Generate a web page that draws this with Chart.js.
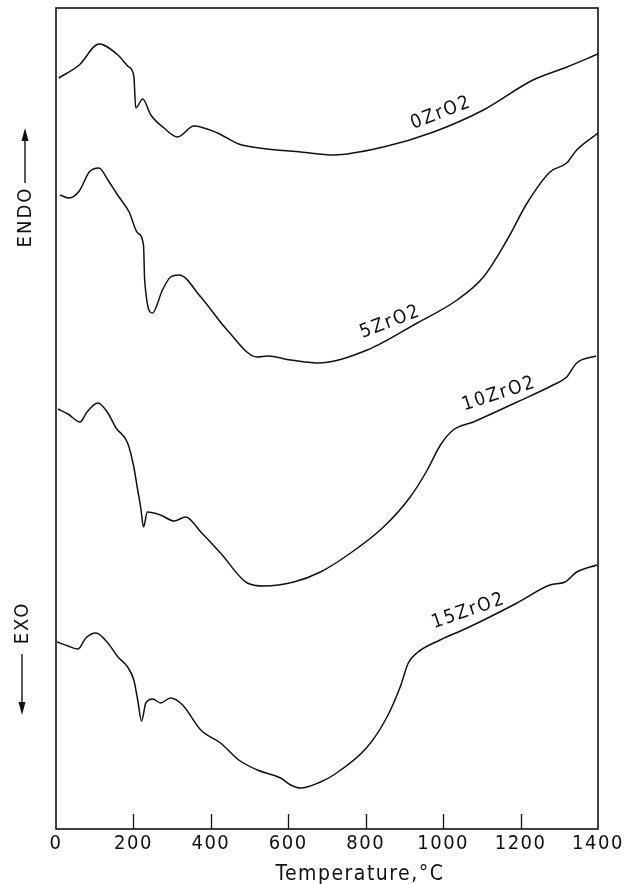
<!DOCTYPE html>
<html>
<head>
<meta charset="utf-8">
<script src="https://cdn.jsdelivr.net/npm/chart.js@4"></script>
<style>
  html, body { margin: 0; padding: 0; background: #fff; }
  canvas { display: block; }
</style>
</head>
<body>
<canvas id="dtaChart" width="638" height="884"></canvas>
<script>
// DTA traces (temperature in °C, signal in arbitrary units)
const temps0 = [7, 60, 111, 160, 188, 201, 206, 224, 245, 279, 314, 356, 417, 472, 546, 632, 717, 846, 975, 1104, 1232, 1320, 1400]
const signal0 = [751, 764, 785, 774, 762, 753, 721, 730, 714, 701, 692, 703, 696, 685, 680, 677, 674, 682, 697, 719, 749, 762, 775]

const temps5 = [10, 34, 60, 86, 111, 134, 159, 189, 211, 226, 229, 249, 275, 296, 318, 374, 442, 520, 546, 606, 675, 804, 933, 1036, 1104, 1165, 1217, 1276, 1319, 1345, 1400]
const signal5 = [634, 631, 638, 657, 661, 649, 634, 617, 596, 584, 549, 516, 539, 552, 554, 532, 499, 472, 473, 469, 466, 479, 506, 529, 552, 589, 626, 657, 666, 679, 696]

const temps10 = [5, 31, 62, 80, 108, 134, 155, 185, 201, 211, 219, 226, 236, 270, 305, 335, 374, 425, 494, 537, 614, 683, 761, 846, 915, 959, 993, 1026, 1078, 1191, 1284, 1319, 1345, 1395]
const signal10 = [420, 415, 407, 417, 426, 416, 401, 386, 362, 339, 321, 302, 317, 314, 308, 312, 297, 276, 246, 243, 247, 257, 276, 302, 332, 359, 384, 399, 407, 427, 444, 452, 466, 473]

const temps15 = [3, 31, 57, 77, 103, 134, 160, 185, 201, 211, 221, 232, 250, 270, 296, 327, 374, 425, 472, 520, 580, 606, 632, 683, 717, 804, 855, 889, 910, 932, 992, 1062, 1191, 1276, 1315, 1345, 1397]
const signal15 = [187, 183, 180, 191, 196, 186, 172, 162, 149, 129, 108, 126, 130, 126, 131, 124, 99, 86, 69, 59, 51, 44, 41, 47, 54, 82, 112, 142, 166, 176, 189, 201, 226, 244, 247, 257, 264]

const seriesNames = ['0ZrO2', '5ZrO2', '10ZrO2', '15ZrO2']
const tickValues = [0, 200, 400, 600, 800, 1000, 1200, 1400]
const axisTitle = 'Temperature,°C'

const fontFamily = "'DejaVu Sans Condensed', 'DejaVu Sans', sans-serif"
const ink = '#111'

function toPoints(xs, ys) {
  return xs.map((t, i) => ({ x: t, y: ys[i] }))
}

const traces = [
  toPoints(temps0, signal0),
  toPoints(temps5, signal5),
  toPoints(temps10, signal10),
  toPoints(temps15, signal15),
]

// where each curve name sits (data coords) and its tilt
const labelSpots = [
  { t: 995, v: 716, angle: -21 },
  { t: 864, v: 507, angle: -21 },
  { t: 1145, v: 435, angle: -18 },
  { t: 1066, v: 218, angle: -19 },
]

function drawArrow(ctx, x, yFrom, yTo) {
  const dir = yTo < yFrom ? -1 : 1
  ctx.beginPath()
  ctx.moveTo(x, yFrom)
  ctx.lineTo(x, yTo - dir * 10)
  ctx.stroke()
  ctx.beginPath()
  ctx.moveTo(x, yTo)
  ctx.lineTo(x - 3.5, yTo - dir * 13)
  ctx.lineTo(x + 3.5, yTo - dir * 13)
  ctx.closePath()
  ctx.fill()
}

const decorations = {
  id: 'decorations',
  beforeDraw(chart) {
    // the printed axis lettering is a bit spread out
    chart.ctx.letterSpacing = '1.5px'
  },
  afterDraw(chart) {
    const { ctx, chartArea: a } = chart
    const xs = chart.scales.x
    const ys = chart.scales.y
    ctx.save()
    ctx.strokeStyle = ink
    ctx.fillStyle = ink
    ctx.lineWidth = 1.6
    ctx.strokeRect(a.left, a.top, a.right - a.left, a.bottom - a.top)

    // tick marks point up into the plot
    ctx.lineWidth = 1.3
    tickValues.slice(1, -1).forEach(t => {
      const px = Math.round(xs.getPixelForValue(t)) + 0.5
      ctx.beginPath()
      ctx.moveTo(px, a.bottom)
      ctx.lineTo(px, a.bottom - 15)
      ctx.stroke()
    })

    // axis title sits right of centre in the original print
    ctx.font = '21px ' + fontFamily
    ctx.letterSpacing = '1.5px'
    ctx.textAlign = 'center'
    ctx.textBaseline = 'alphabetic'
    ctx.fillText(axisTitle, xs.getPixelForValue(785), 880)

    // curve names written along the traces
    ctx.font = '19px ' + fontFamily
    ctx.letterSpacing = '2px'
    ctx.textBaseline = 'middle'
    seriesNames.forEach((name, i) => {
      const spot = labelSpots[i]
      ctx.save()
      ctx.translate(xs.getPixelForValue(spot.t), ys.getPixelForValue(spot.v))
      ctx.rotate(spot.angle * Math.PI / 180)
      ctx.fillText(name, 0, 0)
      ctx.restore()
    })

    // ENDO / EXO side notes
    ctx.font = '20px ' + fontFamily
    ctx.letterSpacing = '2px'
    ctx.save()
    ctx.translate(26, 217)
    ctx.rotate(-Math.PI / 2)
    ctx.fillText('ENDO', 0, 0)
    ctx.restore()
    ctx.save()
    ctx.translate(23, 623)
    ctx.rotate(-Math.PI / 2)
    ctx.fillText('EXO', 0, 0)
    ctx.restore()
    ctx.lineWidth = 1.4
    drawArrow(ctx, 25, 183, 128)
    drawArrow(ctx, 22, 654, 715)
    ctx.restore()
  }
}

new Chart(document.getElementById('dtaChart'), {
  type: 'line',
  data: {
    datasets: traces.map((pts, i) => ({
      label: seriesNames[i],
      data: pts,
      borderColor: ink,
      borderWidth: 1.5,
      pointRadius: 0,
      fill: false,
      cubicInterpolationMode: 'monotone',
    }))
  },
  options: {
    responsive: false,
    animation: false,
    layout: { padding: { left: 56, right: 40, top: 8, bottom: 25 } },
    plugins: {
      legend: { display: false },
      tooltip: { enabled: false },
    },
    scales: {
      x: {
        type: 'linear',
        min: 0,
        max: 1400,
        afterBuildTicks: scale => { scale.ticks = tickValues.map(v => ({ value: v })) },
        grid: { display: false, drawTicks: false },
        border: { display: false },
        ticks: {
          color: ink,
          padding: 3,
          maxRotation: 0,
          font: { family: fontFamily, size: 20 },
          callback: v => String(v),
        },
        title: { display: false },
      },
      y: {
        display: false,
        min: 0,
        max: 821,
      },
    },
  },
  plugins: [decorations],
})
</script>
</body>
</html>
